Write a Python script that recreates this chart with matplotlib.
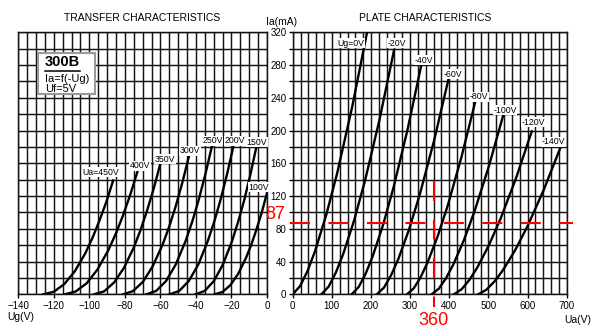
import numpy as np
import matplotlib.pyplot as plt
from matplotlib.lines import Line2D
from matplotlib.patches import Rectangle

plt.rcParams['font.family'] = ['Liberation Sans', 'DejaVu Sans']
plt.rcParams['lines.scale_dashes'] = False

# transfer characteristics Ia = f(Ug), one curve per anode voltage
tr_names = ['Ua=450V', '400V', '350V', '300V', '250V', '200V', '150V', '100V']
tr_ug = [
    [-125.9, -120.0, -114.1, -108.2, -102.3, -98.4, -94.5, -90.5, -86.6],
    [-113.8, -107.7, -101.5, -95.4, -89.3, -85.2, -81.1, -77.0, -72.9],
    [-97.3, -91.7, -86.1, -80.5, -74.9, -71.2, -67.5, -63.7, -60.0],
    [-81.0, -75.5, -69.9, -64.4, -58.8, -55.1, -51.4, -47.7, -44.0],
    [-67.9, -62.4, -56.8, -51.3, -45.8, -42.1, -38.4, -34.7, -31.0],
    [-54.8, -49.4, -44.0, -38.6, -33.3, -29.7, -26.1, -22.5, -18.9],
    [-40.2, -35.1, -29.9, -24.8, -19.7, -16.3, -12.8, -9.4, -6.0],
    [-29.5, -25.1, -20.6, -16.2, -11.8, -8.8, -5.9, -2.9, 0.0],
]
tr_ia = [
    [0, 3.1, 12.5, 28.1, 50.0, 68.1, 89.0, 112.6, 139],
    [0, 3.4, 13.5, 30.4, 54.0, 73.5, 96.0, 121.5, 150],
    [0, 3.6, 14.4, 32.4, 57.6, 78.4, 102.4, 129.6, 160],
    [0, 3.8, 15.1, 34.0, 60.5, 82.3, 107.5, 136.1, 168],
    [0, 4.1, 16.3, 36.7, 65.2, 88.7, 115.8, 146.6, 181],
    [0, 4.1, 16.3, 36.7, 65.2, 88.7, 115.8, 146.6, 181],
    [0, 4.1, 16.2, 36.5, 64.8, 88.2, 115.2, 145.8, 180],
    [0, 2.8, 11.2, 25.1, 44.6, 60.8, 79.4, 100.4, 124],
]
tr_label_pos = [(-93.6, 149), (-71.6, 157), (-57.5, 165), (-43.5, 175.4),
                (-30.7, 187.6), (-18.2, 187.6), (-5.6, 185.6), (-4.5, 130.7)]

# plate characteristics Ia = f(Ua), one curve per grid voltage
pl_names = ['Ug=0V', '-20V', '-40V', '-60V', '-80V', '-100V', '-120V', '-140V']
pl_ua = [
    [0, 19, 38, 57, 85.5, 114, 152, 190],
    [73.2, 91.8, 110.3, 128.9, 156.7, 184.6, 221.7, 258.8],
    [150.6, 168.4, 186.2, 204.0, 230.7, 257.4, 293.0, 328.6],
    [215, 233.3, 251.5, 269.8, 297.2, 324.6, 361.1, 397.6],
    [292, 309.4, 326.8, 344.1, 370.2, 396.3, 431.0, 465.8],
    [355, 373.3, 391.6, 409.9, 437.4, 464.8, 501.4, 538],
    [412, 431.9, 451.7, 471.6, 501.4, 531.2, 571.0, 610.7],
    [474, 494.9, 515.8, 536.7, 568.1, 599.4, 641.2, 683],
]
pl_ia = [
    [0, 10.1, 28.6, 52.6, 96.6, 148.7, 229.0, 320],
    [0, 9.4, 26.6, 49.0, 90.0, 138.5, 213.2, 298],
    [0, 8.8, 25.0, 46.0, 84.5, 130.1, 200.3, 280],
    [0, 8.3, 23.4, 43.0, 79.1, 121.8, 187.5, 262],
    [0, 7.4, 20.9, 38.4, 70.6, 108.8, 167.4, 234],
    [0, 6.9, 19.6, 36.0, 66.1, 101.8, 156.7, 219],
    [0, 6.3, 17.8, 32.7, 60.1, 92.5, 142.4, 199],
    [0, 5.6, 15.9, 29.2, 53.7, 82.7, 127.4, 178],
]
pl_label_pos = [(148, 306.5), (265.7, 306.5), (335.5, 286), (408.8, 269),
                (476, 241.3), (542.4, 225), (614.7, 210), (665.8, 186.4)]

# operating point marked in red
op_ia = 87
op_ua = 360

W, H = 597, 336
fig = plt.figure(figsize=(W / 100, H / 100), dpi=100)


def px_box(x0, y0, x1, y1):
    return [x0 / W, 1 - y1 / H, (x1 - x0) / W, (y1 - y0) / H]


ax1 = fig.add_axes(px_box(18.3, 32.3, 267, 294.3))
ax2 = fig.add_axes(px_box(292.7, 32.3, 566.7, 294.3))

grid_kw = dict(color='#141414', lw=1.05)
for ax in (ax1, ax2):
    ax.set_ylim(0, 320)
    ax.grid(which='both', **grid_kw)
    ax.set_axisbelow(True)
    for sp in ax.spines.values():
        sp.set_linewidth(1.05)
        sp.set_color('#141414')
    ax.tick_params(which='minor', length=0)
    ax.tick_params(axis='x', which='major', length=3, width=1.0, pad=2,
                   labelsize=7, direction='out')

ax1.set_xlim(-140, 0)
ax1.set_xticks(np.arange(-140, 1, 20))
ax1.set_xticks(np.arange(-140, 1, 5), minor=True)
ax1.set_yticks(np.arange(0, 321, 20))
ax1.tick_params(axis='y', left=False, labelleft=False)

ax2.set_xlim(0, 700)
ax2.set_xticks(np.arange(0, 701, 100))
ax2.set_xticks(np.arange(0, 701, 20), minor=True)
ax2.set_yticks(np.arange(0, 321, 40))
ax2.set_yticks(np.arange(0, 321, 20), minor=True)
ax2.tick_params(axis='y', which='both', length=3, width=1.0, pad=1.5,
                labelsize=7, direction='out')

lbl_box = dict(facecolor='white', edgecolor='none', pad=0.4)

for ug, ia in zip(tr_ug, tr_ia):
    ax1.plot(ug, ia, color='black', lw=1.7, zorder=3)
for name, (x, y) in zip(tr_names, tr_label_pos):
    ax1.text(x, y, name, fontsize=6.3, ha='center', va='center',
             bbox=lbl_box, zorder=4)

for ua, ia in zip(pl_ua, pl_ia):
    ax2.plot(ua, ia, color='black', lw=1.7, zorder=3)
for name, (x, y) in zip(pl_names, pl_label_pos):
    ax2.text(x, y, name, fontsize=6.3, ha='center', va='center',
             bbox=lbl_box, zorder=4)

# titles and axis names
fig.text(142.5 / W, 1 - 18.3 / H, 'TRANSFER CHARACTERISTICS',
         ha='center', va='center', fontsize=7.5)
fig.text(425 / W, 1 - 18.3 / H, 'PLATE CHARACTERISTICS',
         ha='center', va='center', fontsize=7.5)
fig.text(282 / W, 1 - 22 / H, 'Ia(mA)', ha='center', va='center', fontsize=7.5)
fig.text(7 / W, 1 - 317 / H, 'Ug(V)', ha='left', va='center', fontsize=7.5)
fig.text(578 / W, 1 - 320 / H, 'Ua(V)', ha='center', va='center', fontsize=7.5)

# tube legend box
fig.add_artist(Rectangle((38 / W, 1 - 94 / H), 57 / W, 41 / H,
                         transform=fig.transFigure, facecolor='white',
                         edgecolor='#9a9a9a', lw=1.5, zorder=5))
fig.text(45 / W, 1 - 62.5 / H, '300B', ha='left', va='center',
         fontsize=10.5, fontweight='bold', zorder=6)
fig.add_artist(Line2D([45 / W, 80 / W], [1 - 70.5 / H, 1 - 70.5 / H],
                      transform=fig.transFigure, color='black', lw=1.1,
                      zorder=6))
fig.text(45 / W, 1 - 78.5 / H, 'Ia=f(-Ug)', ha='left', va='center',
         fontsize=8, zorder=6)
fig.text(45 / W, 1 - 88.5 / H, 'Uf=5V', ha='left', va='center',
         fontsize=8, zorder=6)

# red operating point lines
dash = (0, (14.4, 13.3))
ax2.plot([-6.9, 716], [op_ia, op_ia], color='red', lw=1.5, ls=dash,
         clip_on=False, zorder=6)
ax2.plot([op_ua, op_ua], [138.7, -15.5], color='red', lw=1.5, ls=dash,
         clip_on=False, zorder=6)
# value labels sit just above / below the tick labels
ax2.text(-45, op_ia + 10, str(op_ia), color='red', fontsize=13, ha='center',
         va='center', clip_on=False, zorder=7)
ax2.text(op_ua, -31.5, str(op_ua), color='red', fontsize=13, ha='center',
         va='center', clip_on=False, zorder=7)

fig.savefig('out.png', dpi=100)
